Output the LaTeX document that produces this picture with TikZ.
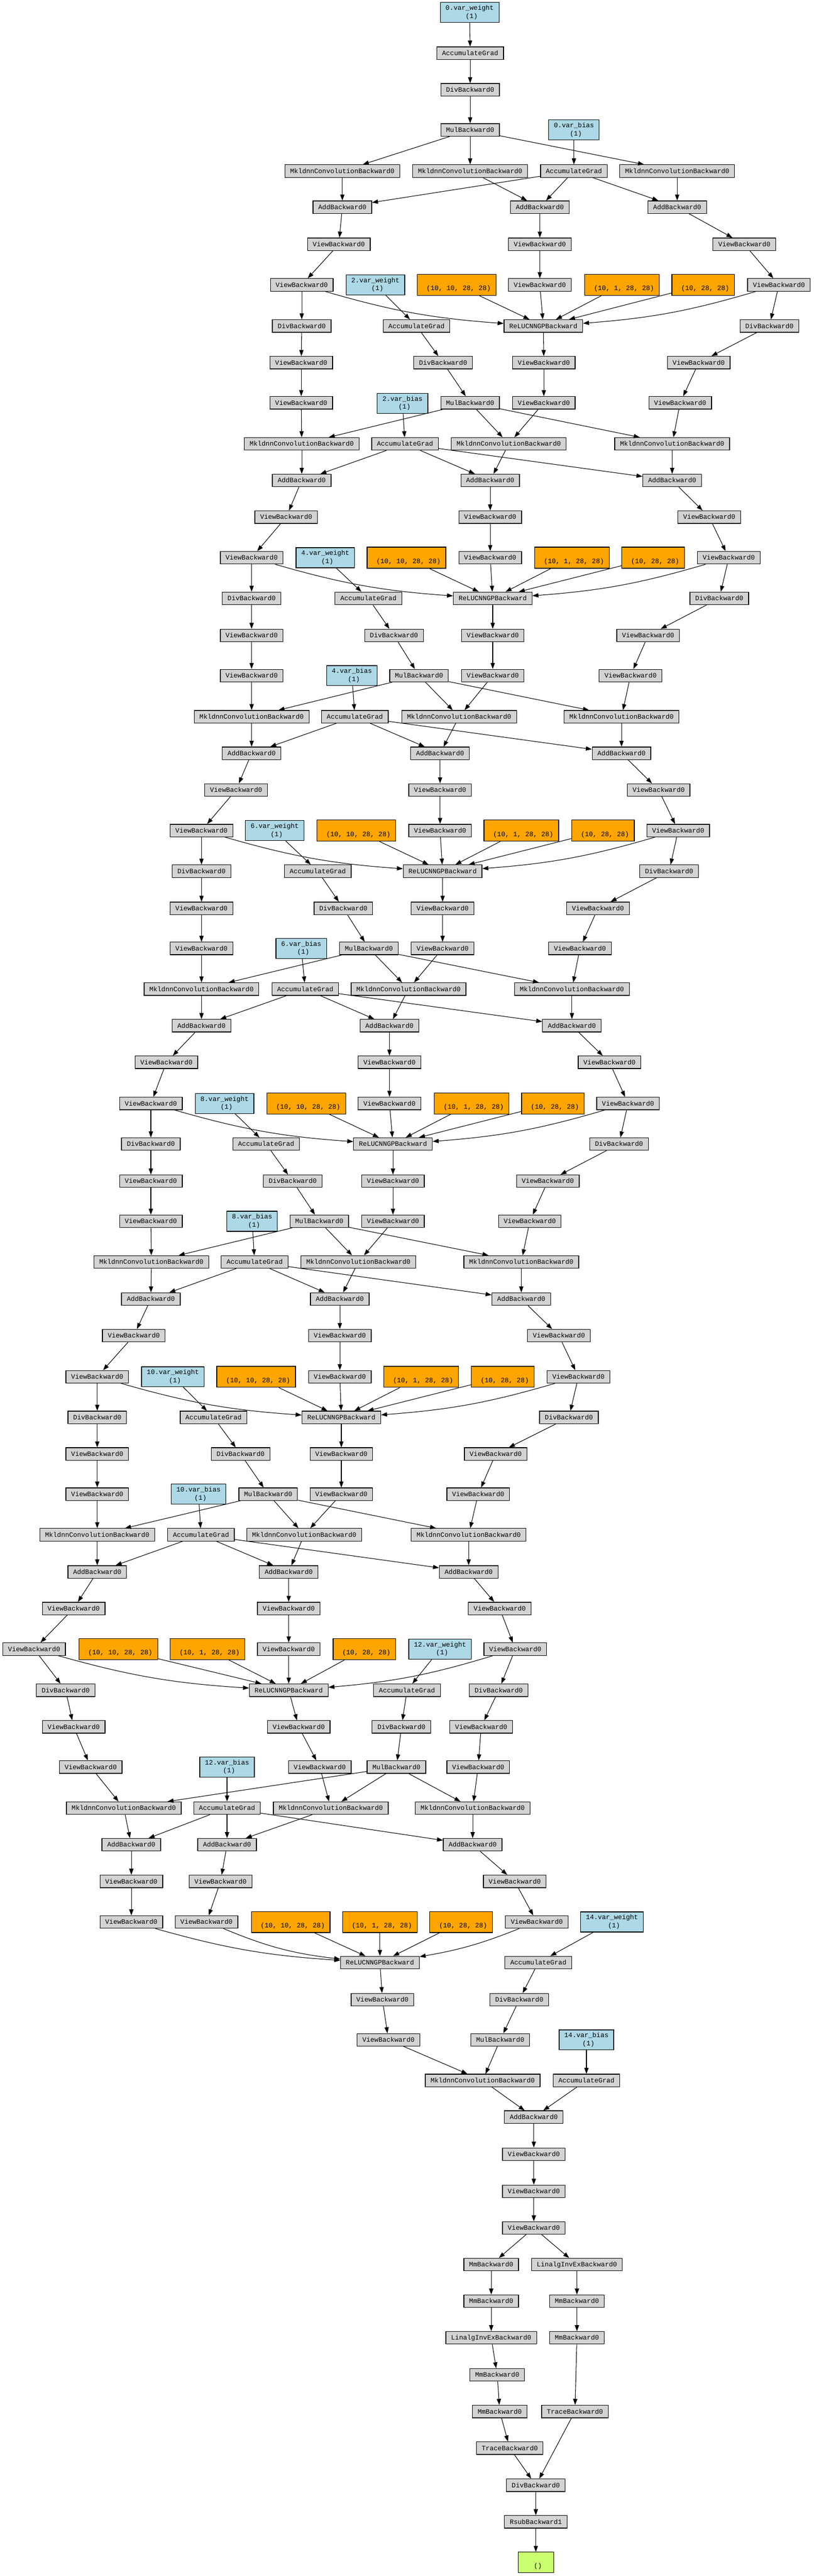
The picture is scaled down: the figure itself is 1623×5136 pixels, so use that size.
\documentclass[tikz,border=0pt]{standalone}
\usepackage{fontspec}
\newfontfamily\gvmono{Liberation Mono}
\usetikzlibrary{arrows.meta}
\definecolor{gvgray}{RGB}{211,211,211}
\definecolor{gvblue}{RGB}{173,216,230}
\definecolor{gvorange}{RGB}{255,165,0}
\definecolor{gvgreen}{RGB}{202,255,112}
\newcommand\tAG{AccumulateGrad}
\newcommand\tDiv{DivBackward0}
\newcommand\tMul{MulBackward0}
\newcommand\tConv{MkldnnConvolutionBackward0}
\newcommand\tAdd{AddBackward0}
\newcommand\tView{ViewBackward0}
\newcommand\tRelu{ReLUCNNGPBackward}
\newcommand\tMm{MmBackward0}
\newcommand\tLin{LinalgInvExBackward0}
\newcommand\tTr{TraceBackward0}
\newcommand\wlab[1]{#1\strut\\\hspace*{8pt}(1)\strut}
\newcommand\olab[1]{\strut\\\hspace*{8pt}#1\strut}
\tikzset{
  base/.style={draw=black, line width=1.3pt, rectangle,
    font=\gvmono\fontsize{13.33}{16}\selectfont, inner xsep=10.5pt, inner ysep=0pt},
  gbox/.style={base, fill=gvgray, minimum height=25pt, text height=8.8pt, text depth=0pt},
  wbox/.style={base, fill=gvblue, minimum height=40pt, align=center},
  obox/.style={base, fill=gvorange, minimum height=42pt, align=center},
  outbox/.style={base, fill=gvgreen, minimum height=41pt, minimum width=71pt, align=center},
  conn/.style={draw=black, line width=1.1pt, -{Triangle[length=12pt,width=8.5pt]}}
}
\begin{document}
\begin{tikzpicture}[x=1pt,y=-1pt]
\useasboundingbox (0,0) rectangle (1623,5136);
% ---------------- layer 0
\node[wbox] (w0) at (937,25) {\wlab{0.var\_weight}};
\node[gbox] (agw0) at (938,106) {\tAG};
\node[gbox] (dw0) at (938,179) {\tDiv};
\node[gbox] (mul0) at (938,259) {\tMul};
\node[wbox] (b0) at (1145,259) {\wlab{0.var\_bias}};
\node[gbox] (agb0) at (1145,341) {\tAG};
\node[gbox] (cl0) at (683,341) {\tConv};
\node[gbox] (cm0) at (938,341) {\tConv};
\node[gbox] (cr0) at (1351,341) {\tConv};
\node[gbox] (al0) at (683,413) {\tAdd};
\node[gbox] (am0) at (1077,413) {\tAdd};
\node[gbox] (ar0) at (1351,413) {\tAdd};
\node[gbox] (vl10) at (676,487) {\tView};
\node[gbox] (vm10) at (1077,487) {\tView};
\node[gbox] (vr10) at (1485,487) {\tView};
\node[gbox] (vl20) at (602,568) {\tView};
\node[gbox] (vm20) at (1077,568) {\tView};
\node[gbox] (vr20) at (1554,568) {\tView};
\node[obox] (oa0) at (911,568) {\olab{(10, 10, 28, 28)}};
\node[obox] (ob0) at (1241,568) {\olab{(10, 1, 28, 28)}};
\node[obox] (oc0) at (1403,568) {\olab{(10, 28, 28)}};
\node[gbox] (relu0) at (1084,650) {\tRelu};
\node[gbox] (dl0) at (602,650) {\tDiv};
\node[gbox] (dr0) at (1535,650) {\tDiv};
\node[gbox] (pl10) at (601,723) {\tView};
\node[gbox] (pm10) at (1085,723) {\tView};
\node[gbox] (pr10) at (1394,723) {\tView};
\node[gbox] (pl20) at (601,803) {\tView};
\node[gbox] (pm20) at (1085,803) {\tView};
\node[gbox] (pr20) at (1357,803) {\tView};
% ---------------- layer 2
\node[wbox] (w2) at (749,568) {\wlab{2.var\_weight}};
\node[gbox] (agw2) at (831,650) {\tAG};
\node[gbox] (dw2) at (884,723) {\tDiv};
\node[gbox] (mul2) at (938,803) {\tMul};
\node[wbox] (b2) at (803,804) {\wlab{2.var\_bias}};
\node[gbox] (agb2) at (808,885) {\tAG};
\node[gbox] (cl2) at (602,885) {\tConv};
\node[gbox] (cm2) at (1015,885) {\tConv};
\node[gbox] (cr2) at (1341,885) {\tConv};
\node[gbox] (al2) at (602,958) {\tAdd};
\node[gbox] (am2) at (978,958) {\tAdd};
\node[gbox] (ar2) at (1341,958) {\tAdd};
\node[gbox] (vl12) at (571,1031) {\tView};
\node[gbox] (vm12) at (978,1031) {\tView};
\node[gbox] (vr12) at (1415,1031) {\tView};
\node[gbox] (vl22) at (502,1112) {\tView};
\node[gbox] (vm22) at (978,1112) {\tView};
\node[gbox] (vr22) at (1454,1112) {\tView};
\node[obox] (oa2) at (811,1112) {\olab{(10, 10, 28, 28)}};
\node[obox] (ob2) at (1141,1112) {\olab{(10, 1, 28, 28)}};
\node[obox] (oc2) at (1303,1112) {\olab{(10, 28, 28)}};
\node[gbox] (relu2) at (983,1193) {\tRelu};
\node[gbox] (dl2) at (502,1193) {\tDiv};
\node[gbox] (dr2) at (1435,1193) {\tDiv};
\node[gbox] (pl12) at (502,1267) {\tView};
\node[gbox] (pm12) at (983,1267) {\tView};
\node[gbox] (pr12) at (1293,1267) {\tView};
\node[gbox] (pl22) at (502,1347) {\tView};
\node[gbox] (pm22) at (983,1347) {\tView};
\node[gbox] (pr22) at (1258,1347) {\tView};
% ---------------- layer 4
\node[wbox] (w4) at (649,1112) {\wlab{4.var\_weight}};
\node[gbox] (agw4) at (735,1193) {\tAG};
\node[gbox] (dw4) at (786,1267) {\tDiv};
\node[gbox] (mul4) at (836,1347) {\tMul};
\node[wbox] (b4) at (702,1347) {\wlab{4.var\_bias}};
\node[gbox] (agb4) at (708,1429) {\tAG};
\node[gbox] (cl4) at (502,1429) {\tConv};
\node[gbox] (cm4) at (916,1429) {\tConv};
\node[gbox] (cr4) at (1240,1429) {\tConv};
\node[gbox] (al4) at (502,1502) {\tAdd};
\node[gbox] (am4) at (878,1502) {\tAdd};
\node[gbox] (ar4) at (1240,1502) {\tAdd};
\node[gbox] (vl14) at (471,1575) {\tView};
\node[gbox] (vm14) at (878,1575) {\tView};
\node[gbox] (vr14) at (1314,1575) {\tView};
\node[gbox] (vl24) at (402,1656) {\tView};
\node[gbox] (vm24) at (878,1656) {\tView};
\node[gbox] (vr24) at (1353,1656) {\tView};
\node[obox] (oa4) at (711,1656) {\olab{(10, 10, 28, 28)}};
\node[obox] (ob4) at (1040,1656) {\olab{(10, 1, 28, 28)}};
\node[obox] (oc4) at (1203,1656) {\olab{(10, 28, 28)}};
\node[gbox] (relu4) at (883,1737) {\tRelu};
\node[gbox] (dl4) at (402,1737) {\tDiv};
\node[gbox] (dr4) at (1335,1737) {\tDiv};
\node[gbox] (pl14) at (402,1811) {\tView};
\node[gbox] (pm14) at (883,1811) {\tView};
\node[gbox] (pr14) at (1193,1811) {\tView};
\node[gbox] (pl24) at (402,1891) {\tView};
\node[gbox] (pm24) at (883,1891) {\tView};
\node[gbox] (pr24) at (1157,1891) {\tView};
% ---------------- layer 6
\node[wbox] (w6) at (548,1656) {\wlab{6.var\_weight}};
\node[gbox] (agw6) at (634,1737) {\tAG};
\node[gbox] (dw6) at (685,1811) {\tDiv};
\node[gbox] (mul6) at (736,1891) {\tMul};
\node[wbox] (b6) at (601,1891) {\wlab{6.var\_bias}};
\node[gbox] (agb6) at (609,1972) {\tAG};
\node[gbox] (cl6) at (402,1972) {\tConv};
\node[gbox] (cm6) at (815,1972) {\tConv};
\node[gbox] (cr6) at (1141,1972) {\tConv};
\node[gbox] (al6) at (402,2045) {\tAdd};
\node[gbox] (am6) at (777,2045) {\tAdd};
\node[gbox] (ar6) at (1141,2045) {\tAdd};
\node[gbox] (vl16) at (332,2118) {\tView};
\node[gbox] (vm16) at (777,2118) {\tView};
\node[gbox] (vr16) at (1216,2118) {\tView};
\node[gbox] (vl26) at (301,2200) {\tView};
\node[gbox] (vm26) at (777,2200) {\tView};
\node[gbox] (vr26) at (1253,2200) {\tView};
\node[obox] (oa6) at (611,2200) {\olab{(10, 10, 28, 28)}};
\node[obox] (ob6) at (941,2200) {\olab{(10, 1, 28, 28)}};
\node[obox] (oc6) at (1103,2200) {\olab{(10, 28, 28)}};
\node[gbox] (relu6) at (784,2281) {\tRelu};
\node[gbox] (dl6) at (301,2281) {\tDiv};
\node[gbox] (dr6) at (1235,2281) {\tDiv};
\node[gbox] (pl16) at (301,2355) {\tView};
\node[gbox] (pm16) at (784,2355) {\tView};
\node[gbox] (pr16) at (1093,2355) {\tView};
\node[gbox] (pl26) at (301,2435) {\tView};
\node[gbox] (pm26) at (784,2435) {\tView};
\node[gbox] (pr26) at (1057,2435) {\tView};
% ---------------- layer 8
\node[wbox] (w8) at (448,2200) {\wlab{8.var\_weight}};
\node[gbox] (agw8) at (531,2281) {\tAG};
\node[gbox] (dw8) at (584,2355) {\tDiv};
\node[gbox] (mul8) at (637,2435) {\tMul};
\node[wbox] (b8) at (503,2435) {\wlab{8.var\_bias}};
\node[gbox] (agb8) at (508,2516) {\tAG};
\node[gbox] (cl8) at (302,2516) {\tConv};
\node[gbox] (cm8) at (715,2516) {\tConv};
\node[gbox] (cr8) at (1040,2516) {\tConv};
\node[gbox] (al8) at (301,2590) {\tAdd};
\node[gbox] (am8) at (678,2590) {\tAdd};
\node[gbox] (ar8) at (1040,2590) {\tAdd};
\node[gbox] (vl18) at (267,2663) {\tView};
\node[gbox] (vm18) at (678,2663) {\tView};
\node[gbox] (vr18) at (1115,2663) {\tView};
\node[gbox] (vl28) at (194,2745) {\tView};
\node[gbox] (vm28) at (678,2745) {\tView};
\node[gbox] (vr28) at (1154,2745) {\tView};
\node[obox] (oa8) at (511,2745) {\olab{(10, 10, 28, 28)}};
\node[obox] (ob8) at (840,2745) {\olab{(10, 1, 28, 28)}};
\node[obox] (oc8) at (1003,2745) {\olab{(10, 28, 28)}};
\node[gbox] (relu8) at (681,2826) {\tRelu};
\node[gbox] (dl8) at (194,2826) {\tDiv};
\node[gbox] (dr8) at (1135,2826) {\tDiv};
\node[gbox] (pl18) at (194,2899) {\tView};
\node[gbox] (pm18) at (681,2899) {\tView};
\node[gbox] (pr18) at (989,2899) {\tView};
\node[gbox] (pl28) at (194,2979) {\tView};
\node[gbox] (pm28) at (681,2979) {\tView};
\node[gbox] (pr28) at (954,2979) {\tView};
% ---------------- layer 10
\node[wbox] (w10) at (345,2745) {\wlab{10.var\_weight}};
\node[gbox] (agw10) at (426,2826) {\tAG};
\node[gbox] (dw10) at (480,2899) {\tDiv};
\node[gbox] (mul10) at (535,2979) {\tMul};
\node[wbox] (b10) at (396,2979) {\wlab{10.var\_bias}};
\node[gbox] (agb10) at (401,3060) {\tAG};
\node[gbox] (cl10) at (194,3060) {\tConv};
\node[gbox] (cm10) at (607,3060) {\tConv};
\node[gbox] (cr10) at (935,3060) {\tConv};
\node[gbox] (al10) at (194,3134) {\tAdd};
\node[gbox] (am10) at (576,3134) {\tAdd};
\node[gbox] (ar10) at (935,3134) {\tAdd};
\node[gbox] (vl110) at (147,3207) {\tView};
\node[gbox] (vm110) at (576,3207) {\tView};
\node[gbox] (vr110) at (997,3207) {\tView};
\node[gbox] (vl210) at (68,3288) {\tView};
\node[gbox] (vm210) at (576,3288) {\tView};
\node[gbox] (vr210) at (1028,3288) {\tView};
\node[obox] (oa10) at (236,3288) {\olab{(10, 10, 28, 28)}};
\node[obox] (ob10) at (414,3288) {\olab{(10, 1, 28, 28)}};
\node[obox] (oc10) at (727,3288) {\olab{(10, 28, 28)}};
\node[gbox] (relu10) at (576,3370) {\tRelu};
\node[gbox] (dl10) at (131,3370) {\tDiv};
\node[gbox] (dr10) at (995,3370) {\tDiv};
\node[gbox] (pl110) at (147,3443) {\tView};
\node[gbox] (pm110) at (596,3443) {\tView};
\node[gbox] (pr110) at (960,3443) {\tView};
\node[gbox] (pl210) at (181,3523) {\tView};
\node[gbox] (pm210) at (638,3523) {\tView};
\node[gbox] (pr210) at (954,3523) {\tView};
% ---------------- layer 12
\node[wbox] (w12) at (878,3288) {\wlab{12.var\_weight}};
\node[gbox] (agw12) at (812,3370) {\tAG};
\node[gbox] (dw12) at (801,3443) {\tDiv};
\node[gbox] (mul12) at (791,3523) {\tMul};
\node[wbox] (b12) at (453,3523) {\wlab{12.var\_bias}};
\node[gbox] (agb12) at (453,3605) {\tAG};
\node[gbox] (cl12) at (247,3605) {\tConv};
\node[gbox] (cm12) at (660,3605) {\tConv};
\node[gbox] (cr12) at (943,3605) {\tConv};
\node[gbox] (al12) at (262,3678) {\tAdd};
\node[gbox] (am12) at (453,3678) {\tAdd};
\node[gbox] (ar12) at (943,3678) {\tAdd};
\node[gbox] (vl112) at (262,3751) {\tView};
\node[gbox] (vm112) at (440,3751) {\tView};
\node[gbox] (vr112) at (1027,3751) {\tView};
\node[gbox] (vl212) at (262,3832) {\tView};
\node[gbox] (vm212) at (412,3832) {\tView};
\node[gbox] (vr212) at (1071,3832) {\tView};
\node[obox] (oa12) at (580,3832) {\olab{(10, 10, 28, 28)}};
\node[obox] (ob12) at (758,3832) {\olab{(10, 1, 28, 28)}};
\node[obox] (oc12) at (920,3832) {\olab{(10, 28, 28)}};
\node[gbox] (relu12) at (758,3913) {\tRelu};
\node[gbox] (pm112) at (763,3987) {\tView};
\node[gbox] (pm212) at (775,4067) {\tView};
% ---------------- readout
\node[wbox] (w14) at (1221,3832) {\wlab{14.var\_weight}};
\node[gbox] (agw14) at (1074,3913) {\tAG};
\node[gbox] (dw14) at (1036,3987) {\tDiv};
\node[gbox] (mul14) at (998,4067) {\tMul};
\node[wbox] (b14) at (1170,4067) {\wlab{14.var\_bias}};
\node[gbox] (agb14) at (1170,4148) {\tAG};
\node[gbox] (c14) at (963,4148) {\tConv};
\node[gbox] (a14) at (1065,4221) {\tAdd};
\node[gbox] (f1) at (1065,4295) {\tView};
\node[gbox] (f2) at (1065,4369) {\tView};
\node[gbox] (f3) at (1065,4442) {\tView};
\node[gbox] (mma) at (980,4515) {\tMm};
\node[gbox] (lib) at (1151,4515) {\tLin};
\node[gbox] (mma2) at (980,4588) {\tMm};
\node[gbox] (mmb2) at (1151,4588) {\tMm};
\node[gbox] (lia3) at (980,4661) {\tLin};
\node[gbox] (mmb3) at (1151,4661) {\tMm};
\node[gbox] (mma4) at (992,4735) {\tMm};
\node[gbox] (mma5) at (997,4808) {\tMm};
\node[gbox] (trb) at (1147,4808) {\tTr};
\node[gbox] (tra) at (1017,4881) {\tTr};
\node[gbox] (divf) at (1069,4955) {\tDiv};
\node[gbox] (rsub) at (1069,5028) {RsubBackward1};
\node[outbox] (out) at (1069,5109) {\olab{()}};
% ---------------- edges common to every layer
\foreach \k/\mb in {0/0,2/0,4/0,6/0,8/0,10/0,12/8}{
  \draw[conn] (w\k) -- (agw\k);
  \draw[conn] (agw\k) -- (dw\k);
  \draw[conn] (dw\k) -- (mul\k);
  \draw[conn] (mul\k) -- (cl\k);
  \draw[conn] (mul\k) -- (cm\k);
  \draw[conn] (mul\k) -- (cr\k);
  \draw[conn] (b\k) -- (agb\k);
  \draw[conn] (agb\k) -- (al\k);
  \draw[conn] (agb\k) -- (am\k);
  \draw[conn] (agb\k) -- (ar\k);
  \draw[conn] (cl\k) -- (al\k);
  \draw[conn] (cm\k) -- (am\k);
  \draw[conn] (cr\k) -- (ar\k);
  \draw[conn] (al\k) -- (vl1\k);
  \draw[conn] (vl1\k) -- (vl2\k);
  \draw[conn] (am\k) -- (vm1\k);
  \draw[conn] (vm1\k) -- (vm2\k);
  \draw[conn] (ar\k) -- (vr1\k);
  \draw[conn] (vr1\k) -- (vr2\k);
  \draw[conn] (vl2\k) to[bend right=6] (relu\k);
  \draw[conn] (vm2\k) to[bend right=\mb] (relu\k);
  \draw[conn] (vr2\k) to[bend left=6] (relu\k);
  \draw[conn] (oa\k) -- (relu\k);
  \draw[conn] (ob\k) -- (relu\k);
  \draw[conn] (oc\k) -- (relu\k);
  \draw[conn] (relu\k) -- (pm1\k);
  \draw[conn] (pm1\k) -- (pm2\k);
}
% ---------------- edges between consecutive layers
\foreach \k/\n in {0/2,2/4,4/6,6/8,8/10,10/12}{
  \draw[conn] (vl2\k) -- (dl\k);
  \draw[conn] (dl\k) -- (pl1\k);
  \draw[conn] (pl1\k) -- (pl2\k);
  \draw[conn] (pl2\k) -- (cl\n);
  \draw[conn] (vr2\k) -- (dr\k);
  \draw[conn] (dr\k) -- (pr1\k);
  \draw[conn] (pr1\k) -- (pr2\k);
  \draw[conn] (pr2\k) -- (cr\n);
  \draw[conn] (pm2\k) -- (cm\n);
}
% ---------------- readout edges
\draw[conn] (pm212) -- (c14);
\draw[conn] (w14) -- (agw14);
\draw[conn] (agw14) -- (dw14);
\draw[conn] (dw14) -- (mul14);
\draw[conn] (mul14) -- (c14);
\draw[conn] (b14) -- (agb14);
\draw[conn] (agb14) -- (a14);
\draw[conn] (c14) -- (a14);
\draw[conn] (a14) -- (f1);
\draw[conn] (f1) -- (f2);
\draw[conn] (f2) -- (f3);
\draw[conn] (f3) -- (mma);
\draw[conn] (f3) -- (lib);
\draw[conn] (mma) -- (mma2);
\draw[conn] (mma2) -- (lia3);
\draw[conn] (lia3) -- (mma4);
\draw[conn] (mma4) -- (mma5);
\draw[conn] (mma5) -- (tra);
\draw[conn] (tra) -- (divf);
\draw[conn] (lib) -- (mmb2);
\draw[conn] (mmb2) -- (mmb3);
\draw[conn] (mmb3) -- (trb);
\draw[conn] (trb) -- (divf);
\draw[conn] (divf) -- (rsub);
\draw[conn] (rsub) -- (out);
\end{tikzpicture}
\end{document}
